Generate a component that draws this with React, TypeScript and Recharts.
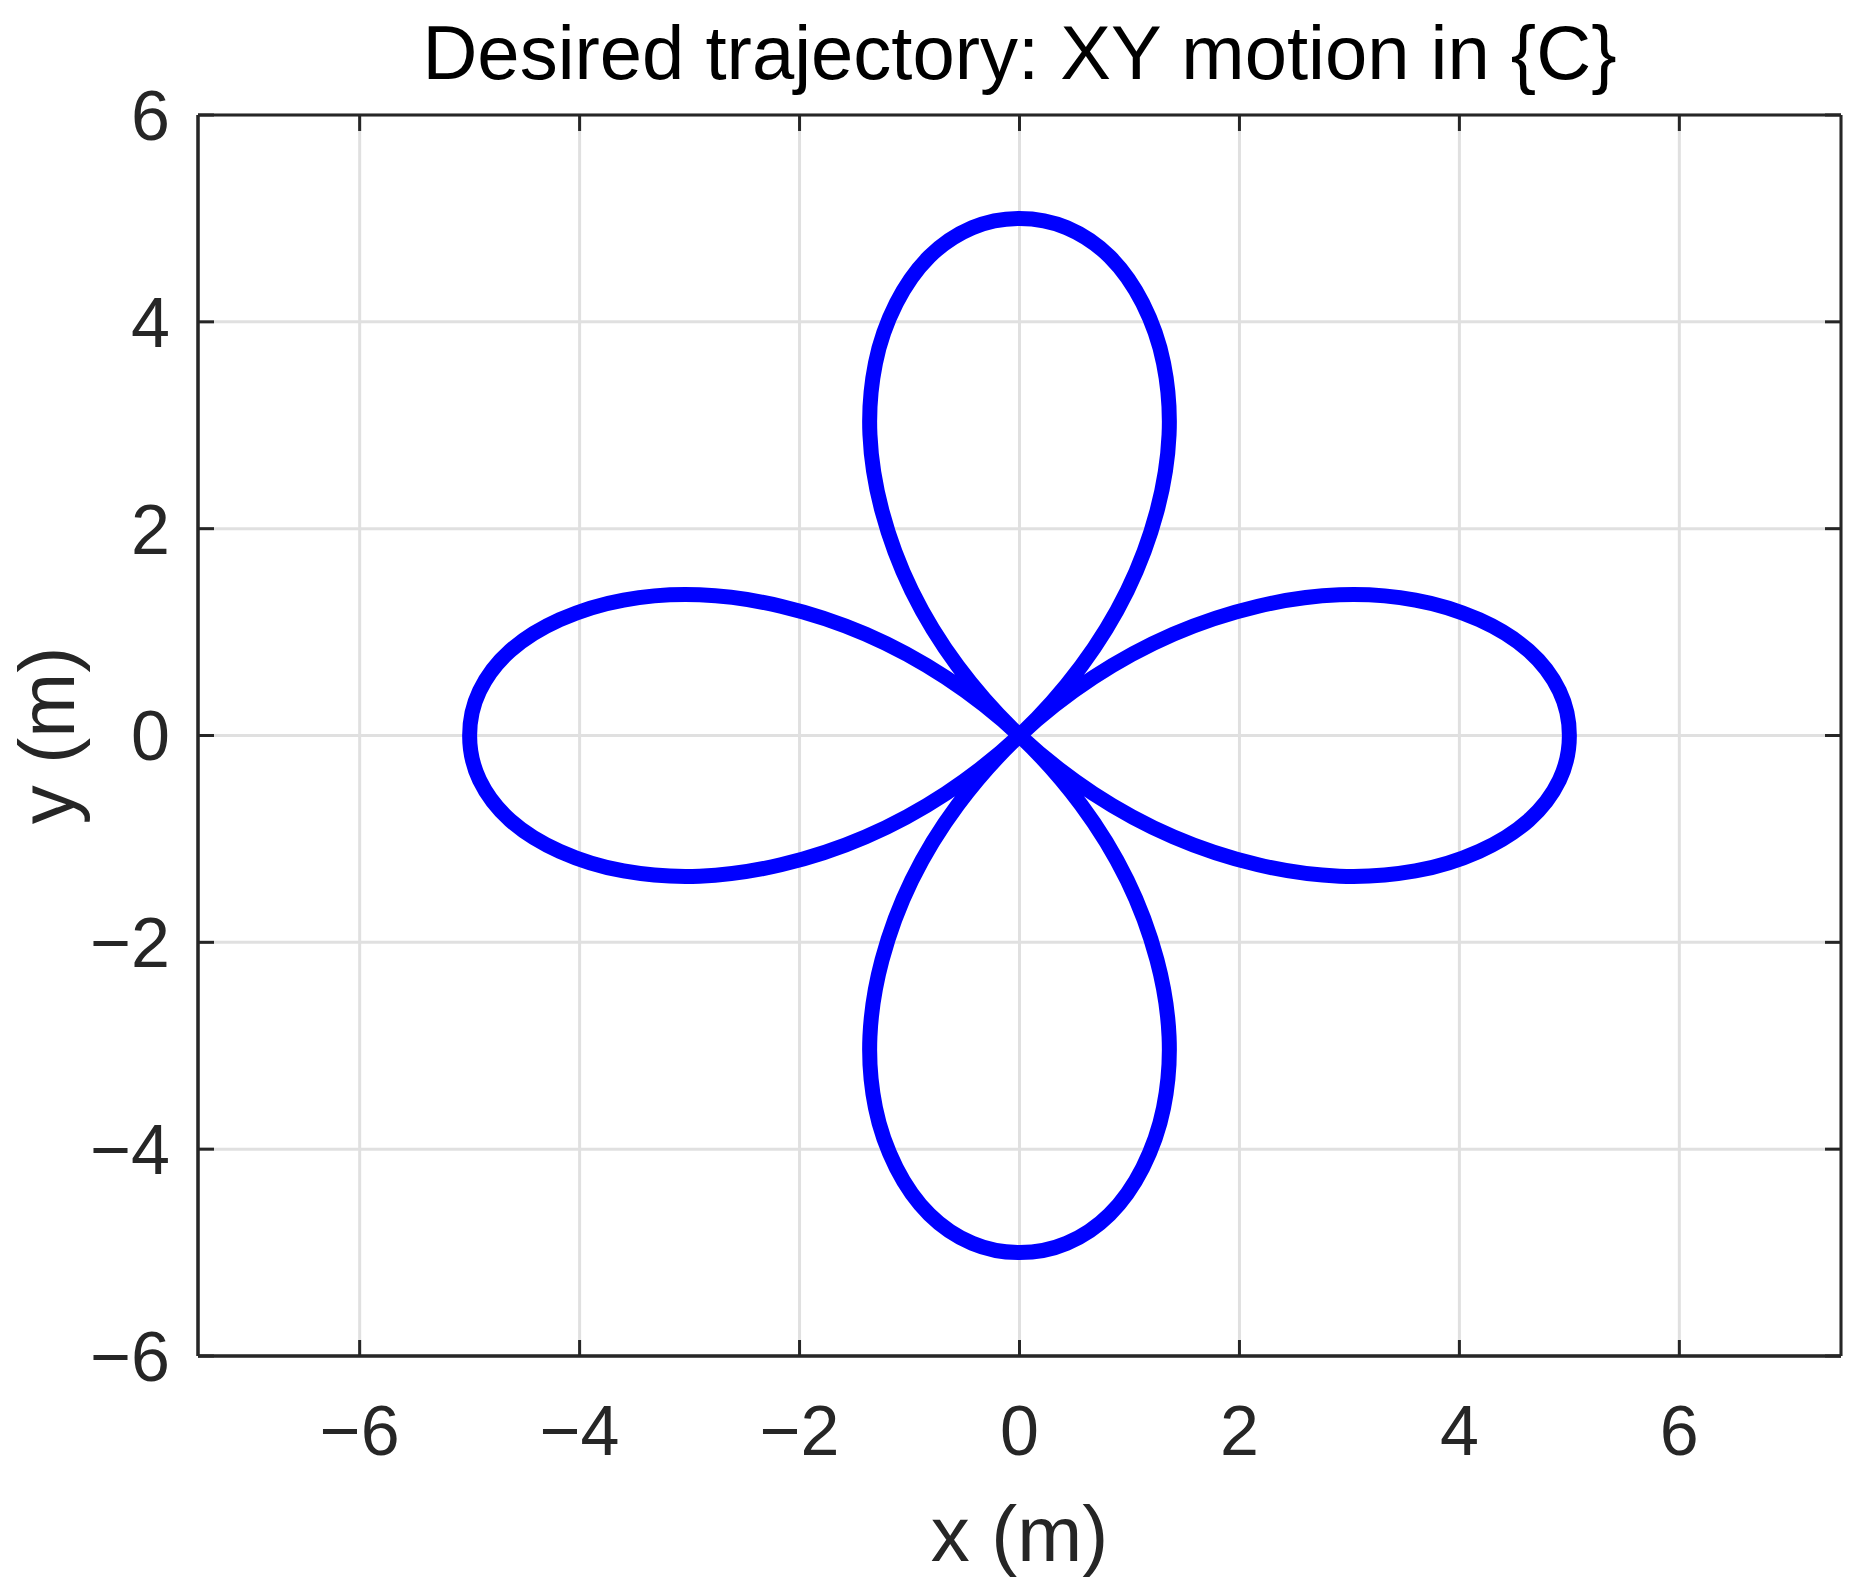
import React from "react";
import { LineChart, Line, XAxis, YAxis, CartesianGrid, Label } from "recharts";

// points, in drawing order (starting at the centre crossing);
// the curve is closed back to the first point by the curve factory below
const X_M = [
  0.0, -0.56, -0.98, -1.25, -1.36, -1.31, -1.12, -0.82, -0.43, 0.0,
  0.43, 0.82, 1.12, 1.31, 1.36, 1.25, 0.98, 0.56, 0.0,
  -0.67, -1.4, -2.17, -2.91, -3.6, -4.18, -4.63, -4.91, -5.0,
  -4.91, -4.63, -4.18, -3.6, -2.91, -2.17, -1.4, -0.67, 0.0,
  0.56, 0.98, 1.25, 1.36, 1.31, 1.12, 0.82, 0.43, 0.0,
  -0.43, -0.82, -1.12, -1.31, -1.36, -1.25, -0.98, -0.56, 0.0,
  0.67, 1.4, 2.17, 2.91, 3.6, 4.18, 4.63, 4.91, 5.0,
  4.91, 4.63, 4.18, 3.6, 2.91, 2.17, 1.4, 0.67,
];
const Y_M = [
  0.0, -0.67, -1.4, -2.17, -2.91, -3.6, -4.18, -4.63, -4.91, -5.0,
  -4.91, -4.63, -4.18, -3.6, -2.91, -2.17, -1.4, -0.67, 0.0,
  0.56, 0.98, 1.25, 1.36, 1.31, 1.12, 0.82, 0.43, 0.0,
  -0.43, -0.82, -1.12, -1.31, -1.36, -1.25, -0.98, -0.56, 0.0,
  0.67, 1.4, 2.17, 2.91, 3.6, 4.18, 4.63, 4.91, 5.0,
  4.91, 4.63, 4.18, 3.6, 2.91, 2.17, 1.4, 0.67, 0.0,
  -0.56, -0.98, -1.25, -1.36, -1.31, -1.12, -0.82, -0.43, 0.0,
  0.43, 0.82, 1.12, 1.31, 1.36, 1.25, 0.98, 0.56,
];

const X_TICKS = [-6, -4, -2, 0, 2, 4, 6];
const Y_TICKS = [-6, -4, -2, 0, 2, 4, 6];
const X_DOMAIN = [-7.47, 7.47];
const Y_DOMAIN = [-6, 6];

const TITLE = "Desired trajectory: XY motion in {C}";
const X_LABEL = "x (m)";
const Y_LABEL = "y (m)";

const FONT = '"Liberation Sans", Arial, Helvetica, sans-serif';
const INK = "#262626";
const axisStyle = { stroke: INK, strokeWidth: 3 };
const tickFont = { fontFamily: FONT, fontSize: 70, fill: INK };

const fmt = (v: number) => String(v).replace("-", "\u2212");

// closed Catmull-Rom curve through every point (d3 curve factory shape)
function closedCatmull(ctx: any) {
  let pts: number[][] = [];
  return {
    areaStart() {},
    areaEnd() {},
    lineStart() {
      pts = [];
    },
    point(x: number, y: number) {
      pts.push([+x, +y]);
    },
    lineEnd() {
      const n = pts.length;
      if (!n) return;
      ctx.moveTo(pts[0][0], pts[0][1]);
      for (let i = 0; i < n; i++) {
        const p0 = pts[(i - 1 + n) % n];
        const p1 = pts[i];
        const p2 = pts[(i + 1) % n];
        const p3 = pts[(i + 2) % n];
        ctx.bezierCurveTo(
          p1[0] + (p2[0] - p0[0]) / 6,
          p1[1] + (p2[1] - p0[1]) / 6,
          p2[0] - (p3[0] - p1[0]) / 6,
          p2[1] - (p3[1] - p1[1]) / 6,
          p2[0],
          p2[1]
        );
      }
      ctx.closePath();
    },
  };
}

const noTickText = () => <g />;

export default function App() {
  const data = X_M.map((x, i) => ({ x, y: Y_M[i] }));

  // the mirrored axes only carry the inward tick marks and the box edges
  const tickOnlyX = {
    type: "number" as const,
    dataKey: "x",
    domain: X_DOMAIN,
    ticks: X_TICKS,
    allowDataOverflow: true,
    height: 1,
    mirror: true,
    tickSize: 16,
    axisLine: axisStyle,
    tickLine: axisStyle,
    tick: noTickText,
  };
  const tickOnlyY = {
    type: "number" as const,
    dataKey: "y",
    domain: Y_DOMAIN,
    ticks: Y_TICKS,
    allowDataOverflow: true,
    width: 1,
    mirror: true,
    tickSize: 16,
    axisLine: axisStyle,
    tickLine: axisStyle,
    tick: noTickText,
  };

  return (
    <div style={{ position: "absolute", left: 0, top: 0, background: "#fff" }}>
      <LineChart
        width={1859}
        height={1593}
        data={data}
        margin={{ top: 115, right: 18, bottom: 0, left: 0 }}
      >
        <CartesianGrid stroke="#e0e0e0" strokeWidth={3} />
        <XAxis
          type="number"
          dataKey="x"
          domain={X_DOMAIN}
          ticks={X_TICKS}
          allowDataOverflow
          height={237}
          tickSize={0}
          tickMargin={49}
          axisLine={axisStyle}
          tickLine={false}
          tick={tickFont}
          tickFormatter={fmt}
        >
          <Label
            content={({ viewBox }: any) => (
              <text
                x={viewBox.x + viewBox.width / 2}
                y={1561}
                textAnchor="middle"
                fontFamily={FONT}
                fontSize={78}
                fill={INK}
              >
                {X_LABEL}
              </text>
            )}
          />
        </XAxis>
        <YAxis
          type="number"
          dataKey="y"
          domain={Y_DOMAIN}
          ticks={Y_TICKS}
          allowDataOverflow
          width={198}
          tickSize={0}
          tickMargin={28}
          axisLine={axisStyle}
          tickLine={false}
          tick={tickFont}
          tickFormatter={fmt}
        >
          <Label
            content={({ viewBox }: any) => {
              const cy = viewBox.y + viewBox.height / 2;
              return (
                <text
                  x={74}
                  y={cy}
                  transform={`rotate(-90 74 ${cy})`}
                  textAnchor="middle"
                  fontFamily={FONT}
                  fontSize={78}
                  fill={INK}
                >
                  {Y_LABEL}
                </text>
              );
            }}
          />
        </YAxis>
        <XAxis xAxisId="bm" orientation="bottom" {...tickOnlyX} />
        <XAxis xAxisId="tm" orientation="top" {...tickOnlyX}>
          <Label
            content={({ viewBox }: any) => (
              <text
                x={viewBox.x + viewBox.width / 2}
                y={79}
                textAnchor="middle"
                fontFamily={FONT}
                fontSize={76}
                fill="#000"
              >
                {TITLE}
              </text>
            )}
          />
        </XAxis>
        <YAxis yAxisId="lm" orientation="left" {...tickOnlyY} />
        <YAxis yAxisId="rm" orientation="right" {...tickOnlyY} />
        <Line
          dataKey="y"
          type={closedCatmull as any}
          stroke="#0000ff"
          strokeWidth={15}
          strokeLinejoin="round"
          dot={false}
          activeDot={false}
          isAnimationActive={false}
        />
      </LineChart>
    </div>
  );
}
